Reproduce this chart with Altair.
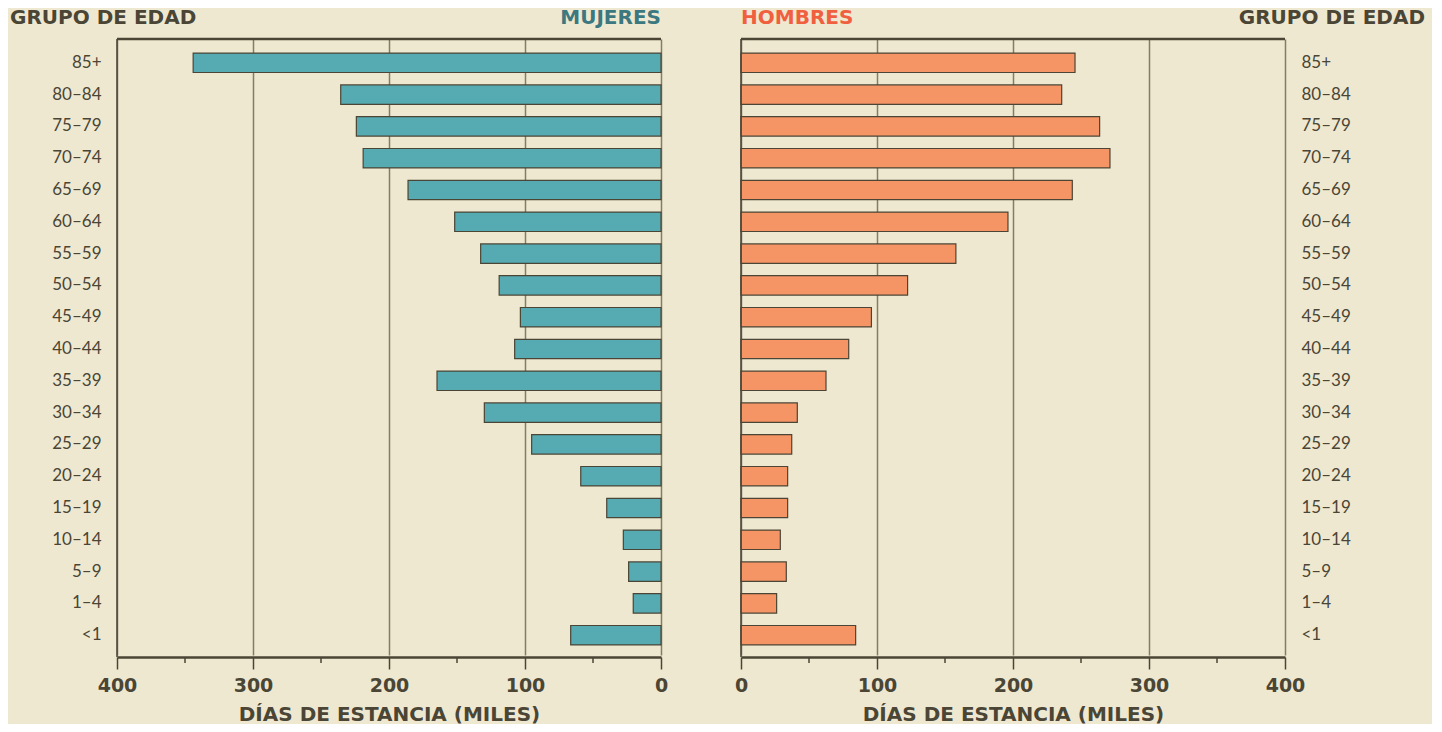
import altair as alt
import pandas as pd

grupos = ["85+", "80–84", "75–79", "70–74", "65–69", "60–64", "55–59", "50–54",
          "45–49", "40–44", "35–39", "30–34", "25–29", "20–24", "15–19", "10–14",
          "5–9", "1–4", "<1"]
mujeres = [344, 235.5, 224, 219, 186, 151.7, 132.6, 119, 103.4, 107.6, 164.7,
           129.9, 95.1, 59, 39.9, 27.7, 23.8, 20.4, 66.4]
hombres = [245.6, 235.8, 263.7, 271.3, 243.6, 196.3, 158, 122.5, 95.9, 79.2, 62.5,
           41.4, 37.3, 34.3, 34.3, 28.9, 33.3, 26.2, 84.3]
major_ticks = [0, 100, 200, 300, 400]
minor_ticks = [50, 150, 250, 350]
encabezado_edad = "GRUPO DE EDAD"
titulo_mujeres = "MUJERES"
titulo_hombres = "HOMBRES"
titulo_x = "DÍAS DE ESTANCIA (MILES)"

df = pd.DataFrame({"grupo": grupos, "mujeres": mujeres, "hombres": hombres})
minor_df = pd.DataFrame({"v": minor_ticks})

W, H = 544, 618
INK = "#4a4535"
GRID = "#857b66"
BG = "#efe8d0"
TEAL = "#56abb3"
ORANGE = "#f59566"
HEAD_FONT = "DejaVu Sans"
LABEL_FONT = "Lato"


def panel(field, color, reverse, side, title_text, title_color):
    xscale = alt.Scale(domain=[0, 400], reverse=reverse, nice=False)
    xaxis = alt.Axis(values=major_ticks, tickSize=12, tickWidth=1.5, tickColor=INK,
                     domainColor=INK, domainWidth=2.5, grid=True, gridColor=GRID,
                     gridWidth=1.5, labelFont=HEAD_FONT, labelFontWeight="bold",
                     labelFontSize=19, labelColor=INK, labelPadding=7,
                     labelFlush=False,
                     title=titulo_x, titleFont=HEAD_FONT, titleFontSize=20,
                     titleFontWeight="bold", titleColor=INK, titlePadding=9)
    yaxis = alt.Axis(orient=side, title=None, domain=False, ticks=False,
                     labelPadding=16, labelFont=LABEL_FONT, labelFontSize=17,
                     labelColor=INK, grid=False)
    yscale = alt.Scale(paddingInner=0.39, paddingOuter=0.38, range=[2, H])
    bars = alt.Chart(df).mark_bar(fill=color, stroke=INK, strokeWidth=1.2).encode(
        x=alt.X(f"{field}:Q", scale=xscale, axis=xaxis),
        y=alt.Y("grupo:N", sort=grupos, scale=yscale, axis=yaxis),
    )
    top = alt.Chart(df.head(1)).mark_rule(stroke=INK, strokeWidth=2.5).encode(
        x=alt.value(0), x2=alt.value(W), y=alt.value(0))
    edge = alt.Chart(df.head(1)).mark_rule(stroke=INK, strokeWidth=1.5).encode(
        x=alt.value(0), y=alt.value(0), y2=alt.value(H))
    minor = alt.Chart(minor_df).mark_rule(stroke=INK, strokeWidth=1.5).encode(
        x=alt.X("v:Q", scale=xscale), y=alt.value(H), y2=alt.value(H + 6))
    head_edad = alt.Chart(pd.DataFrame({"t": [encabezado_edad]})).mark_text(
        font=HEAD_FONT, fontSize=20, fontWeight="bold", color=INK,
        align="left" if side == "left" else "right", baseline="alphabetic").encode(
        text="t:N",
        x=alt.value(-107 if side == "left" else W + 140), y=alt.value(-15))
    head_sex = alt.Chart(pd.DataFrame({"t": [title_text]})).mark_text(
        font=HEAD_FONT, fontSize=20, fontWeight="bold", color=title_color,
        align="right" if side == "left" else "left", baseline="alphabetic").encode(
        text="t:N", x=alt.value(W if side == "left" else 0), y=alt.value(-15))
    return alt.layer(bars, minor, top, edge, head_edad, head_sex).properties(
        width=W, height=H)


left = panel("mujeres", TEAL, True, "left", titulo_mujeres, "#3b7880")
right = panel("hombres", ORANGE, False, "right", titulo_hombres, "#f0603f")

chart = alt.hconcat(left, right, spacing=66).properties(
    padding={"left": 2, "top": 0, "right": 7, "bottom": 0},
    background=BG,
).configure_view(stroke=None)

chart.save("out.html", embed_options={"renderer": "svg", "actions": False})
